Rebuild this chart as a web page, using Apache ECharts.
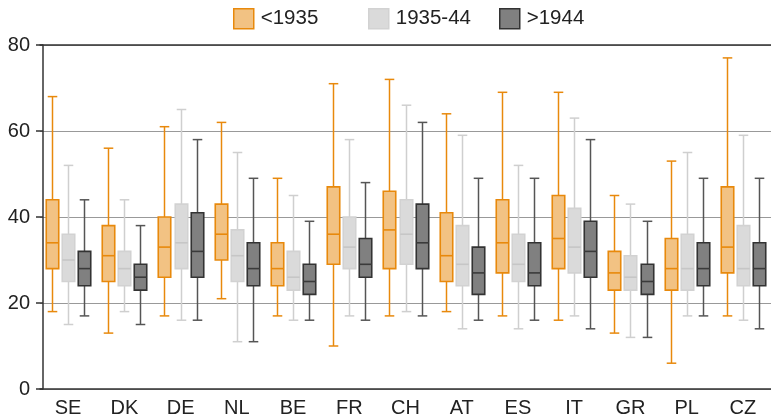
<!DOCTYPE html>
<html>
<head>
<meta charset="utf-8">
<script src="https://cdn.jsdelivr.net/npm/echarts@6/dist/echarts.min.js"></script>
<style>
html,body{margin:0;padding:0;background:#fff;}
#chart{width:771px;height:419px;}
</style>
</head>
<body>
<div id="chart"></div>
<script>
// categories
const countries = ['SE','DK','DE','NL','BE','FR','CH','AT','ES','IT','GR','PL','CZ'];
const seriesNames = ['<1935','1935-44','>1944'];
// each entry: [low, Q1, median, Q3, high]
const before1935 = [
  [18,28,34,44,68],[13,25,31,38,56],[17,26,33,40,61],[21,30,36,43,62],
  [17,24,28,34,49],[10,29,36,47,71],[17,28,37,46,72],[18,25,31,41,64],
  [17,27,34,44,69],[16,28,35,45,69],[13,23,27,32,45],[6,23,28,35,53],
  [17,27,33,47,77]
];
const born1935to44 = [
  [15,25,30,36,52],[18,24,28,32,44],[16,28,34,43,65],[11,25,31,37,55],
  [16,23,26,32,45],[17,28,33,40,58],[18,29,36,44,66],[14,24,29,38,59],
  [14,25,29,36,52],[17,27,33,42,63],[12,23,26,31,43],[17,23,28,36,55],
  [16,24,28,38,59]
];
const after1944 = [
  [17,24,28,32,44],[15,23,26,29,38],[16,26,32,41,58],[11,24,28,34,49],
  [16,22,25,29,39],[16,26,29,35,48],[17,28,34,43,62],[16,22,27,33,49],
  [16,24,27,34,49],[14,26,32,39,58],[12,22,25,29,39],[17,24,28,34,49],
  [14,24,28,34,49]
];
const yTicks = [0,20,40,60,80];

const styles = [
  {fill:'#f2c283', border:'#e8890c', whisker:'#e8890c', median:'#e8890c'},
  {fill:'#dadada', border:'#d2d2d2', whisker:'#cfcfcf', median:'#c6c6c6'},
  {fill:'#808080', border:'#333333', whisker:'#555555', median:'#3a3a3a'}
];
const dataSets = [before1935, born1935to44, after1944];
const FONT = 'Liberation Sans';

function makeRender(si){
  const st = styles[si];
  return function(params, api){
    const ci = api.value(0);
    const band = api.size([1,0])[0];
    const off = (si-1)*band*0.286;
    const bw = band*0.222;
    const cw = band*0.17;
    const pL = api.coord([ci, api.value(1)]);
    const p1 = api.coord([ci, api.value(2)]);
    const pM = api.coord([ci, api.value(3)]);
    const p3 = api.coord([ci, api.value(4)]);
    const pH = api.coord([ci, api.value(5)]);
    const cx = Math.round(pL[0]+off)+0.5;
    const ls = {stroke:st.whisker, lineWidth:1.5};
    return {type:'group', children:[
      {type:'line', shape:{x1:cx,y1:pL[1],x2:cx,y2:p1[1]}, style:ls},
      {type:'line', shape:{x1:cx,y1:p3[1],x2:cx,y2:pH[1]}, style:ls},
      {type:'line', shape:{x1:cx-cw/2,y1:pL[1],x2:cx+cw/2,y2:pL[1]}, style:ls},
      {type:'line', shape:{x1:cx-cw/2,y1:pH[1],x2:cx+cw/2,y2:pH[1]}, style:ls},
      {type:'rect', shape:{x:cx-bw/2,y:p3[1],width:bw,height:p1[1]-p3[1]},
        style:{fill:st.fill, stroke:st.border, lineWidth:1.6}},
      {type:'line', shape:{x1:cx-bw/2,y1:pM[1],x2:cx+bw/2,y2:pM[1]},
        style:{stroke:st.median, lineWidth:1.6}}
    ]};
  };
}

const chart = echarts.init(document.getElementById('chart'), null, {renderer:'canvas'});
const legendLefts = [233, 368, 499];
const option = {
  animation:false,
  backgroundColor:'#fff',
  textStyle:{fontFamily:FONT},
  legend: seriesNames.map((n,i)=>({
    data:[n], left:legendLefts[i], top:8, padding:0, icon:'rect', itemWidth:20, itemHeight:20,
    itemGap:0, selectedMode:false,
    textStyle:{fontFamily:FONT, fontSize:20.5, color:'#222', padding:[0,0,0,2]},
    itemStyle:{color:styles[i].fill, borderColor:styles[i].border, borderWidth:1.5}
  })),
  grid:{left:40, right:-10, top:45, bottom:30, containLabel:false},
  xAxis:[{
    type:'category', data:countries, position:'bottom',
    axisLine:{show:true, lineStyle:{color:'#333', width:1.5}},
    axisTick:{show:false},
    axisLabel:{fontFamily:FONT, fontSize:20, color:'#222', margin:9},
    splitLine:{show:false}
  },{
    type:'category', data:countries, position:'top',
    axisLine:{show:true, lineStyle:{color:'#333', width:1.5}},
    axisTick:{show:false}, axisLabel:{show:false}, splitLine:{show:false}
  }],
  yAxis:{
    type:'value', min:yTicks[0], max:yTicks[yTicks.length-1], interval:20, offset:-3,
    axisLine:{show:true, lineStyle:{color:'#333', width:1.5}},
    axisTick:{show:true, inside:false, length:7, lineStyle:{color:'#333', width:1.5}},
    axisLabel:{fontFamily:FONT, fontSize:20, color:'#222', margin:13},
    splitLine:{show:true, lineStyle:{color:'#999', width:1.2}}
  },
  series: seriesNames.map((n,i)=>({
    name:n, type:'custom', xAxisIndex:0,
    renderItem:makeRender(i),
    encode:{x:0, y:[1,2,3,4,5]},
    data:dataSets[i].map((d,ci)=>[ci].concat(d)),
    itemStyle:{color:styles[i].fill, borderColor:styles[i].border},
    emphasis:{disabled:true}
  }))
};
chart.setOption(option);
</script>
</body>
</html>
